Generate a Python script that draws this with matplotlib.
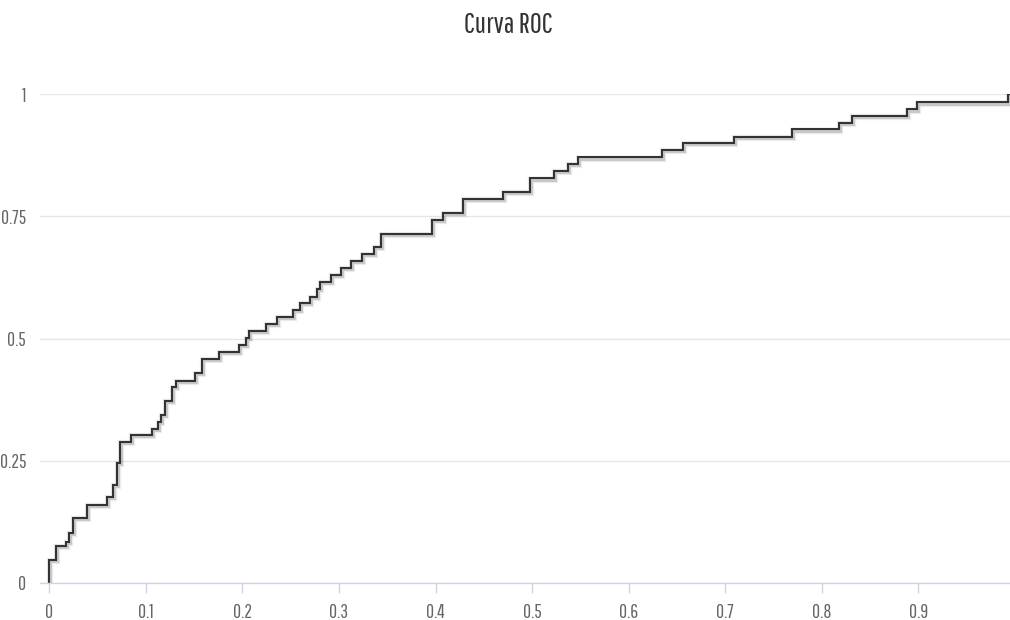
import matplotlib
matplotlib.use("Agg")
import matplotlib.pyplot as plt
import matplotlib.patheffects as pe

plt.rcParams['font.family'] = ['Pathway Gothic One', 'Sofia Sans Extra Condensed', 'DejaVu Sans']

# ROC points (false positive rate, true positive rate), drawn as a step curve
fpr = [0.0, 0.0, 0.0069, 0.0173, 0.0207, 0.0242, 0.0387, 0.0598, 0.0660, 0.0698,
       0.0732, 0.0843, 0.1060, 0.1123, 0.1154, 0.1198, 0.1274, 0.1309, 0.1510, 0.1578,
       0.1757, 0.1968, 0.2037, 0.2071, 0.2244, 0.2355, 0.2527, 0.2596, 0.2700, 0.2769,
       0.2803, 0.2914, 0.3018, 0.3124, 0.3235, 0.3366, 0.3435, 0.3966, 0.4074, 0.4281,
       0.4702, 0.4978, 0.5230, 0.5369, 0.5478, 0.6348, 0.6566, 0.7091, 0.7688, 0.8178,
       0.8316, 0.8879, 0.8989, 0.9932, 1.0]
tpr = [0.0, 0.0465, 0.0757, 0.0839, 0.1017, 0.1325, 0.1590, 0.1754, 0.2000, 0.2450,
       0.2880, 0.3026, 0.3150, 0.3296, 0.3433, 0.3726, 0.4000, 0.4135, 0.4300, 0.4580,
       0.4716, 0.4866, 0.5003, 0.5152, 0.5296, 0.5445, 0.5582, 0.5720, 0.5855, 0.6006,
       0.6162, 0.6299, 0.6436, 0.6585, 0.6729, 0.6866, 0.7138, 0.7425, 0.7562, 0.7855,
       0.8004, 0.8278, 0.8434, 0.8571, 0.8708, 0.8858, 0.9007, 0.9130, 0.9281, 0.9417,
       0.9554, 0.9691, 0.9834, 1.0, 1.0]

x_ticks = [0, 0.1, 0.2, 0.3, 0.4, 0.5, 0.6, 0.7, 0.8, 0.9]
x_labels = ['0', '0.1', '0.2', '0.3', '0.4', '0.5', '0.6', '0.7', '0.8', '0.9']
y_ticks = [0, 0.25, 0.5, 0.75, 1]
y_labels = ['0', '0.25', '0.5', '0.75', '1']

fig = plt.figure(figsize=(10.1, 6.2), dpi=100)
ax = fig.add_axes([40 / 1010, 37.3 / 620, 970 / 1010, 488.4 / 620])

ax.plot(fpr, tpr, drawstyle='steps-post', color='#333333', lw=1.5,
        solid_joinstyle='miter', zorder=3,
        path_effects=[pe.SimpleLineShadow(offset=(0.8, -0.8), shadow_color='black', alpha=0.08, linewidth=4.5),
                      pe.SimpleLineShadow(offset=(0.8, -0.8), shadow_color='black', alpha=0.15, linewidth=2.8),
                      pe.Normal()])

ax.set_xlim(-0.0096, 0.9949)
ax.set_ylim(0, 1)

ax.set_xticks(x_ticks)
ax.set_xticklabels(x_labels)
ax.set_yticks(y_ticks)
ax.set_yticklabels(y_labels)

ax.grid(axis='y', color='#e6e6e6', lw=1)
ax.set_axisbelow(True)
for side in ['top', 'right', 'left']:
    ax.spines[side].set_visible(False)
ax.spines['bottom'].set_color('#ccd6eb')
ax.spines['bottom'].set_linewidth(1)
ax.spines['bottom'].set_zorder(4)

ax.tick_params(axis='x', length=7.5, width=1, color='#ccd6eb', pad=7,
               labelsize=14, labelcolor='#666666')
ax.tick_params(axis='y', length=0, pad=10, labelsize=14, labelcolor='#666666')

fig.text(508 / 1010, 1 - 25 / 620, 'Curva ROC', ha='center', va='center',
         fontsize=21, color='#333333')
fig.text(3 / 1010, 1 - 337 / 620, 'Sensibilidad', rotation=90, ha='right', va='center',
         fontsize=12, color='#666666')

fig.savefig('out.png', dpi=100)
